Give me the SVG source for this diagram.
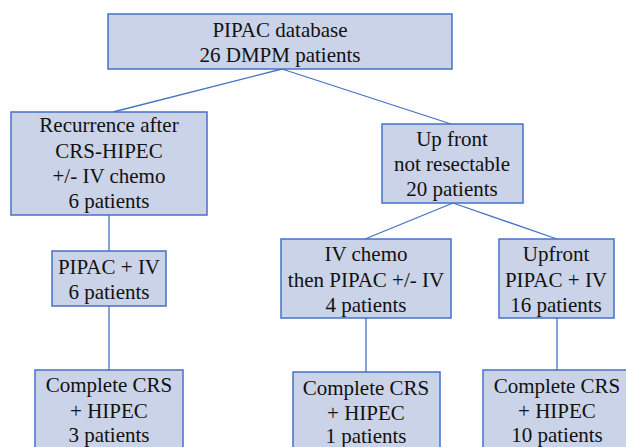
<svg xmlns="http://www.w3.org/2000/svg" width="626" height="447" viewBox="0 0 626 447">
  <style>
    .box { fill: #cbd3e8; stroke: #4472c4; stroke-width: 1.5; }
    .link { stroke: #4472c4; stroke-width: 1.3; fill: none; }
    .t { font-family: 'Liberation Serif', 'Times New Roman', serif; font-size: 21px; fill: #111; text-anchor: middle; }
  </style>
  <rect width="626" height="447" fill="#ffffff"/>

  <!-- tree connectors -->
  <g id="connectors">
    <line class="link" x1="282" y1="69" x2="113" y2="112"/>
    <line class="link" x1="282" y1="69" x2="451" y2="124"/>
    <line class="link" x1="109" y1="215" x2="109" y2="251"/>
    <line class="link" x1="109" y1="306" x2="109" y2="370"/>
    <line class="link" x1="453" y1="203" x2="365" y2="239"/>
    <line class="link" x1="453" y1="203" x2="557" y2="239"/>
    <line class="link" x1="366" y1="318" x2="366" y2="372"/>
    <line class="link" x1="557" y1="318" x2="557" y2="370"/>
  </g>

  <g id="database" class="t">
    <rect class="box" x="108" y="14" width="344" height="55"/>
    <text x="280" y="37">PIPAC database</text>
    <text x="280" y="62">26 DMPM patients</text>
  </g>

  <g id="recurrence" class="t">
    <rect class="box" x="11" y="112" width="196" height="103"/>
    <text x="109" y="132">Recurrence after</text>
    <text x="109" y="158">CRS-HIPEC</text>
    <text x="109" y="183">+/- IV chemo</text>
    <text x="109" y="208">6 patients</text>
  </g>

  <g id="upfront-unresectable" class="t">
    <rect class="box" x="382" y="124" width="141" height="79"/>
    <text x="452" y="146">Up front</text>
    <text x="452" y="171">not resectable</text>
    <text x="452" y="196">20 patients</text>
  </g>

  <g id="pipac-iv" class="t">
    <rect class="box" x="52" y="251" width="114" height="55"/>
    <text x="109" y="274">PIPAC + IV</text>
    <text x="109" y="299">6 patients</text>
  </g>

  <g id="iv-chemo" class="t">
    <rect class="box" x="281" y="239" width="170" height="79"/>
    <text x="366" y="261">IV chemo</text>
    <text x="366" y="287">then PIPAC +/- IV</text>
    <text x="366" y="312">4 patients</text>
  </g>

  <g id="upfront-pipac" class="t">
    <rect class="box" x="499" y="239" width="115" height="79"/>
    <text x="556" y="261">Upfront</text>
    <text x="556" y="287">PIPAC + IV</text>
    <text x="556" y="312">16 patients</text>
  </g>

  <g id="crs-left" class="t">
    <rect class="box" x="35" y="370" width="148" height="90"/>
    <text x="109" y="392">Complete CRS</text>
    <text x="109" y="418">+ HIPEC</text>
    <text x="109" y="442">3 patients</text>
  </g>

  <g id="crs-middle" class="t">
    <rect class="box" x="293" y="372" width="147" height="90"/>
    <text x="366" y="395">Complete CRS</text>
    <text x="366" y="420">+ HIPEC</text>
    <text x="366" y="443">1 patients</text>
  </g>

  <g id="crs-right" class="t">
    <rect class="box" x="483" y="370" width="148" height="90"/>
    <text x="557" y="393">Complete CRS</text>
    <text x="557" y="418">+ HIPEC</text>
    <text x="557" y="442">10 patients</text>
  </g>
</svg>
